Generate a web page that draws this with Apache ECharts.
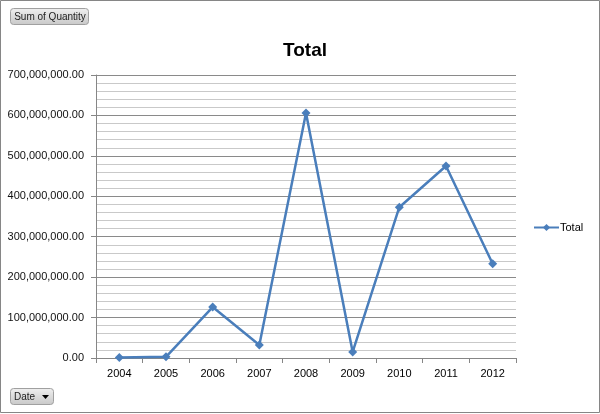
<!DOCTYPE html>
<html><head><meta charset="utf-8">
<script src="https://cdn.jsdelivr.net/npm/echarts@6/dist/echarts.min.js"></script>
<style>html,body{margin:0;padding:0;background:#fff}#c{width:600px;height:414px}</style>
</head><body><div id="c"></div>
<script>
var categories = ['2004','2005','2006','2007','2008','2009','2010','2011','2012'];
var totalValues = [1000000, 3000000, 126000000, 32000000, 606000000, 15000000, 373000000, 475000000, 233000000];
var seriesName = 'Total';
var titleText = 'Total';
var fieldButton = 'Sum of Quantity';
var axisButton = 'Date';

function fmt(v){
  var s = Math.round(v).toString().replace(/\B(?=(\d{3})+(?!\d))/g, ',');
  return s + '.00';
}
var chart = echarts.init(document.getElementById('c'), null, {renderer:'canvas'});
var font = 'Liberation Sans, Arial, sans-serif';
chart.setOption({
  animation: false,
  backgroundColor: '#fff',
  title: { text: titleText, left: 300, top: 36, textAlign: 'center',
    textStyle: { fontFamily: font, fontSize: 19, fontWeight: 'bold', color: '#000' } },
  legend: { data: [seriesName], left: 528, top: 217, orient: 'vertical',
    itemWidth: 25, itemHeight: 9, itemGap: 4,
    textStyle: { fontFamily: font, fontSize: 11, color: '#000', padding: [0,0,0,-4] } },
  grid: { left: 96, right: 84, top: 75, bottom: 56, containLabel: false },
  xAxis: { type: 'category', data: categories, boundaryGap: true,
    axisLine: { lineStyle: { color: '#868686', width: 1 } },
    axisTick: { show: true, alignWithLabel: false, length: 5, lineStyle: { color: '#868686' } },
    axisLabel: { fontFamily: font, fontSize: 11, color: '#000', margin: 10 } },
  yAxis: { type: 'value', min: 0, max: 700000000, interval: 100000000,
    axisLine: { show: true, lineStyle: { color: '#868686', width: 1 } },
    axisTick: { show: true, length: 5, lineStyle: { color: '#868686' } },
    axisLabel: { fontFamily: font, fontSize: 11, color: '#111', margin: 12, formatter: fmt },
    splitLine: { show: true, lineStyle: { color: '#8a8a8a', width: 1 } },
    minorTick: { show: false, splitNumber: 5 },
    minorSplitLine: { show: true, lineStyle: { color: '#c9c9c9', width: 1 } } },
  series: [{ name: seriesName, type: 'line', data: totalValues,
    symbol: 'diamond', symbolSize: 9, showAllSymbol: true,
    lineStyle: { color: '#4a7ebb', width: 2.5 },
    itemStyle: { color: '#4a7ebb' } }],
  graphic: [
    { type: 'rect', shape: { x: 0.5, y: 0.5, width: 599, height: 412 },
      style: { fill: 'none', stroke: '#868686', lineWidth: 1 }, silent: true, z: 100 },
    { type: 'group', x: 10, y: 8, children: [
      { type: 'rect', shape: { x: 0.5, y: 0.5, width: 78, height: 16, r: 3 },
        style: { fill: new echarts.graphic.LinearGradient(0,0,0,1,[{offset:0,color:'#f0f0f0'},{offset:1,color:'#c8c8c8'}]), stroke: '#a0a0a0', lineWidth: 1 } },
      { type: 'text', x: 40, y: 9, style: { text: fieldButton, fontFamily: font, fontSize: 10, fill: '#222', align: 'center', verticalAlign: 'middle' } }
    ]},
    { type: 'group', x: 10, y: 388, children: [
      { type: 'rect', shape: { x: 0.5, y: 0.5, width: 43, height: 16, r: 3 },
        style: { fill: new echarts.graphic.LinearGradient(0,0,0,1,[{offset:0,color:'#f0f0f0'},{offset:1,color:'#c8c8c8'}]), stroke: '#a0a0a0', lineWidth: 1 } },
      { type: 'text', x: 4, y: 9, style: { text: axisButton, fontFamily: font, fontSize: 10, fill: '#222', verticalAlign: 'middle' } },
      { type: 'polygon', shape: { points: [[32,7],[39,7],[35.5,11]] }, style: { fill: '#000' } }
    ]}
  ]
});
</script></body></html>
